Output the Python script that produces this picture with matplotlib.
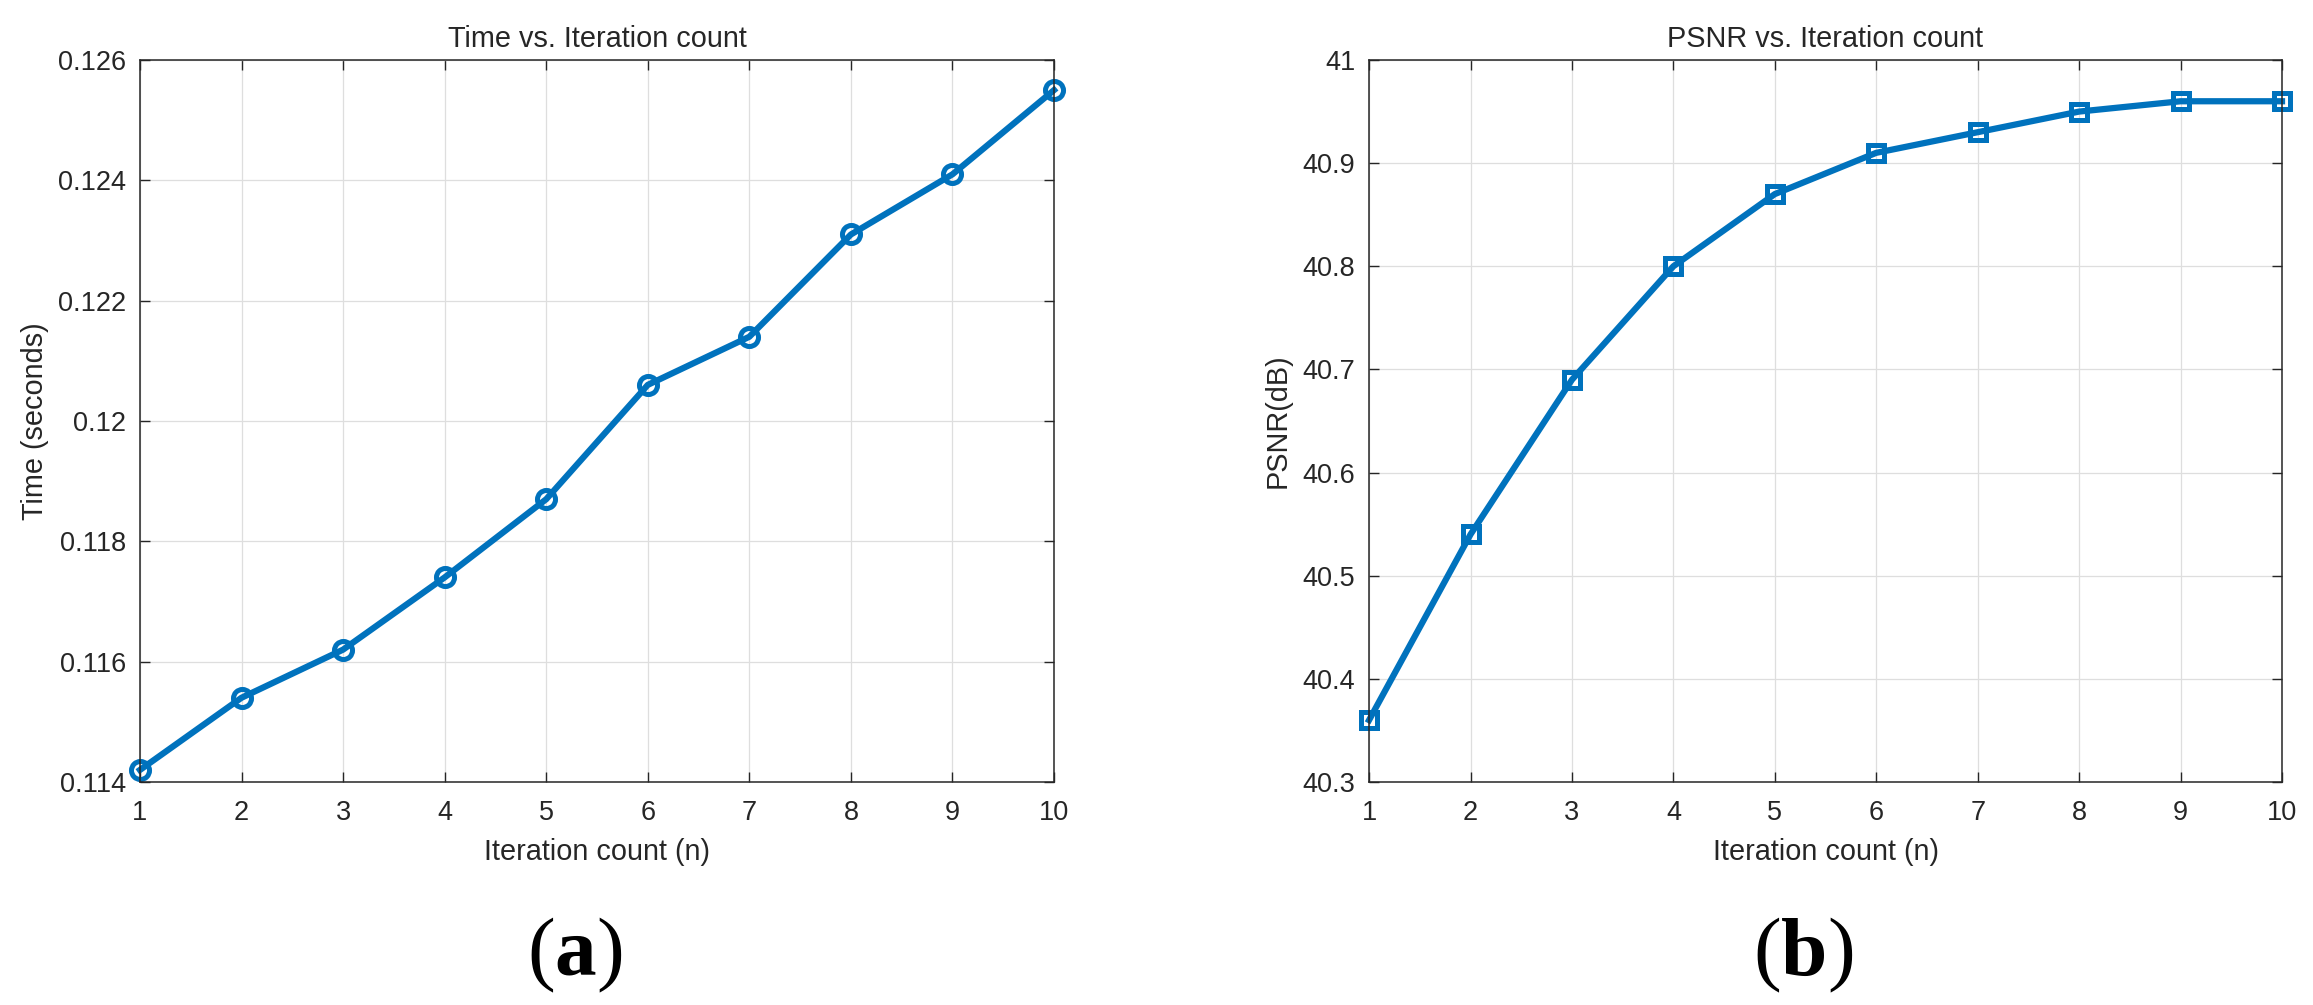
#!/usr/bin/env python3
# -*- coding: utf-8 -*-

import matplotlib
matplotlib.use("Agg")
import matplotlib.pyplot as plt


iterations = [1, 2, 3, 4, 5, 6, 7, 8, 9, 10]
time_sec = [0.1142, 0.1154, 0.1162, 0.1174, 0.1187, 0.1206, 0.1214, 0.1231, 0.1241, 0.1255]
psnr_db = [40.36, 40.54, 40.69, 40.80, 40.87, 40.91, 40.93, 40.95, 40.96, 40.96]

time_ticks = [0.114, 0.116, 0.118, 0.12, 0.122, 0.124, 0.126]
time_ticklabels = ["0.114", "0.116", "0.118", "0.12", "0.122", "0.124", "0.126"]
psnr_ticks = [40.3, 40.4, 40.5, 40.6, 40.7, 40.8, 40.9, 41.0]
psnr_ticklabels = ["40.3", "40.4", "40.5", "40.6", "40.7", "40.8", "40.9", "41"]

BLUE = "#0072BD"
DARK = "#262626"
GRID = "#dedede"

plt.rcParams["font.family"] = ["Liberation Sans", "DejaVu Sans"]
plt.rcParams["mathtext.fontset"] = "custom"
plt.rcParams["mathtext.rm"] = "Liberation Serif"
plt.rcParams["mathtext.bf"] = "Liberation Serif:bold"


def style_axes(ax):
    ax.set_xlim(1, 10)
    ax.set_xticks(iterations)
    ax.grid(True, color=GRID, linewidth=0.9)
    ax.set_axisbelow(True)
    for sp in ax.spines.values():
        sp.set_color(DARK)
        sp.set_linewidth(1.1)
    ax.tick_params(direction="in", length=7, width=1, color=DARK,
                   labelcolor=DARK, labelsize=19.5, pad=10,
                   top=True, right=True)
    ax.tick_params(axis="x", pad=13)
    ax.set_xlabel("Iteration count (n)", fontsize=20.8, color=DARK)
    ax.xaxis.set_label_coords(0.5, -0.078)


def main():
    fig = plt.figure(figsize=(23.13, 10.05), dpi=100)

    ax_t = fig.add_axes([0.0605, 0.2219, 0.3952, 0.7184])
    ax_p = fig.add_axes([0.5919, 0.2219, 0.3947, 0.7184])

    # (a) time
    ax_t.plot(iterations, time_sec, color=BLUE, linewidth=4.5, marker="o",
              markersize=13, markerfacecolor="none", markeredgewidth=3.6,
              clip_on=False)
    style_axes(ax_t)
    ax_t.set_ylim(0.114, 0.126)
    ax_t.set_yticks(time_ticks)
    ax_t.set_yticklabels(time_ticklabels)
    ax_t.set_title("Time vs. Iteration count", fontsize=20.8, color=DARK, pad=9)
    ax_t.set_ylabel("Time (seconds)", fontsize=20.8, color=DARK)
    ax_t.yaxis.set_label_coords(-0.100, 0.5)

    # (b) psnr
    ax_p.plot(iterations, psnr_db, color=BLUE, linewidth=4.5, marker="s",
              markersize=11, markerfacecolor="none", markeredgewidth=3.6,
              clip_on=False)
    style_axes(ax_p)
    ax_p.set_ylim(40.3, 41.0)
    ax_p.set_yticks(psnr_ticks)
    ax_p.set_yticklabels(psnr_ticklabels)
    ax_p.set_title("PSNR vs. Iteration count", fontsize=20.8, color=DARK, pad=9)
    ax_p.set_ylabel("PSNR(dB)", fontsize=20.8, color=DARK)
    ax_p.yaxis.set_label_coords(-0.085, 0.5)

    # panel labels
    fig.text(575 / 2313, 1 - 955 / 1005, r"$\mathrm{(}\mathbf{a}\mathrm{)}$",
             fontsize=60, ha="center", va="center", color="black")
    fig.text(1803 / 2313, 1 - 955 / 1005, r"$\mathrm{(}\mathbf{b}\mathrm{)}$",
             fontsize=60, ha="center", va="center", color="black")

    fig.savefig("out.png", dpi=100, facecolor="white")


if __name__ == "__main__":
    main()
